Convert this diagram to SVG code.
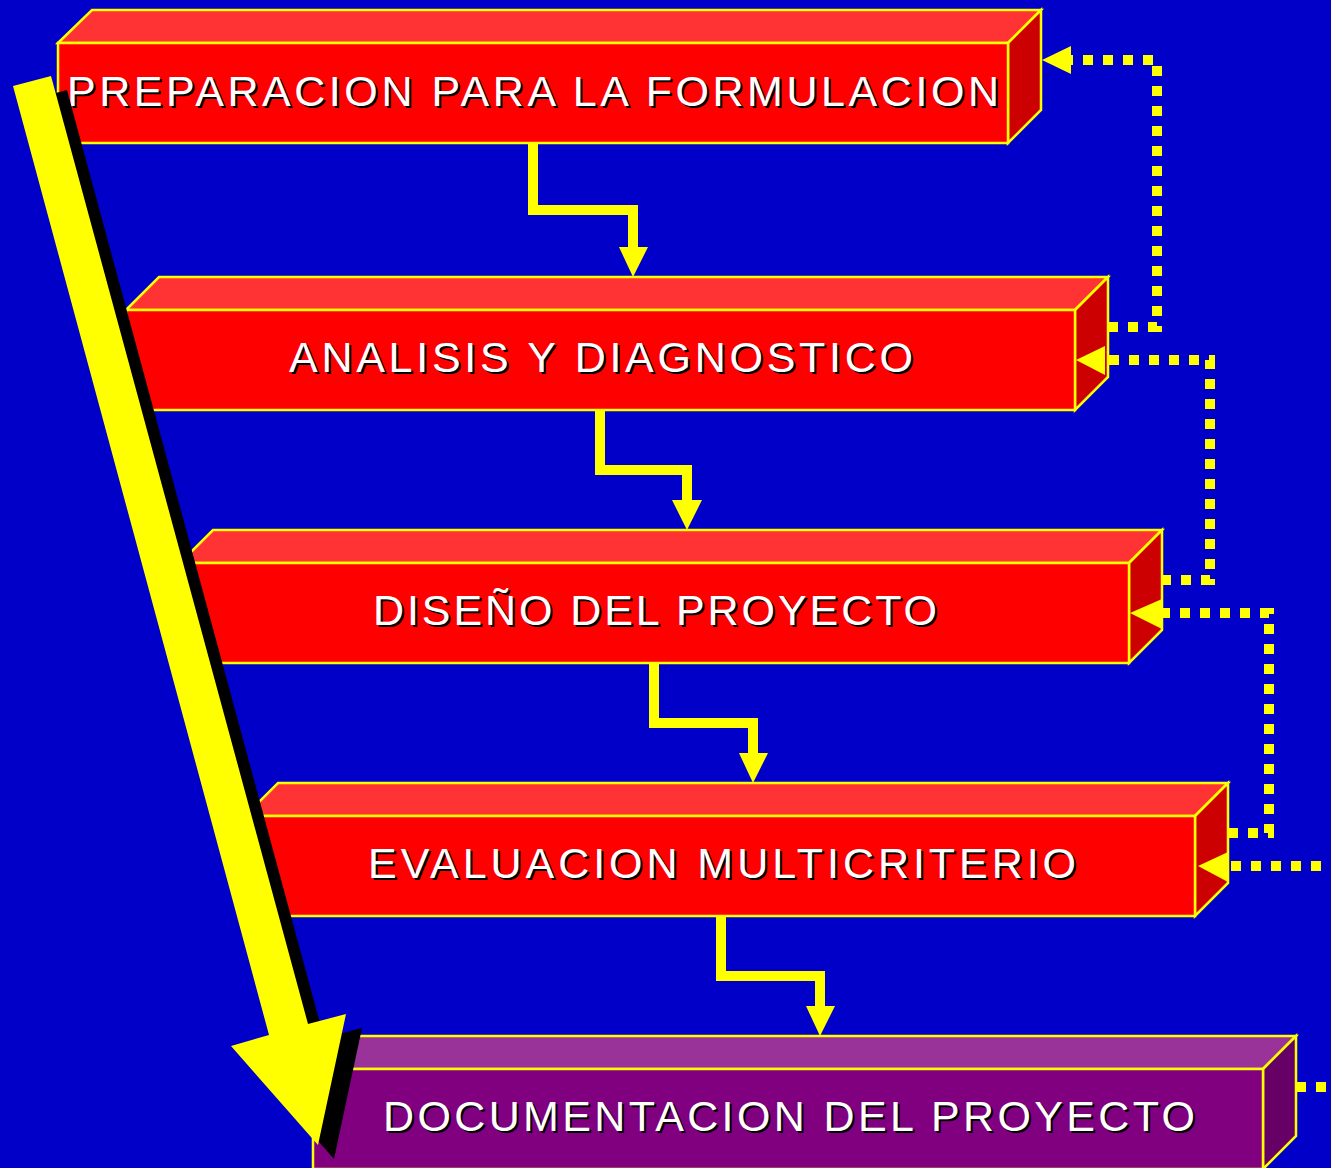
<svg xmlns="http://www.w3.org/2000/svg" width="1331" height="1168" viewBox="0 0 1331 1168">
<style>
.front{fill:#FF0000;stroke:#FFFF00;stroke-width:2.5}
.top{fill:#FF3333;stroke:#FFFF00;stroke-width:2.5}
.side{fill:#CC0000;stroke:#FFFF00;stroke-width:2.5}
.pfront{fill:#800080;stroke:#FFFF00;stroke-width:2.5}
.ptop{fill:#993399;stroke:#FFFF00;stroke-width:2.5}
.pside{fill:#660066;stroke:#FFFF00;stroke-width:2.5}
.lbl{font-family:"Liberation Sans",Arial,sans-serif;font-size:43px;text-anchor:middle}
.sh{fill:#000000}
.tx{fill:#FFFFFF}
.step{fill:none;stroke:#FFFF00;stroke-width:10;stroke-linejoin:miter}
.dot{fill:none;stroke:#FFFF00;stroke-width:10;stroke-dasharray:10 10}
.head{fill:#FFFF00}
</style>
<rect x="0" y="0" width="1331" height="1168" fill="#0000C8"/>

<g id="node1">
<polygon class="top" points="58,43 92,10 1041,10 1008,43"/>
<polygon class="side" points="1008,43 1041,10 1041,110 1008,143"/>
<rect class="front" x="58" y="43" width="950" height="100"/>
<text class="lbl sh" x="535" y="108" textLength="932" lengthAdjust="spacing">PREPARACION PARA LA FORMULACION</text>
<text class="lbl tx" x="533" y="106" textLength="932" lengthAdjust="spacing">PREPARACION PARA LA FORMULACION</text>
</g>

<g id="node2">
<polygon class="top" points="126,310 159,277 1108,277 1075,310"/>
<polygon class="side" points="1075,310 1108,277 1108,377 1075,410"/>
<rect class="front" x="126" y="310" width="949" height="100"/>
<text class="lbl sh" x="603" y="374" textLength="624" lengthAdjust="spacing">ANALISIS Y DIAGNOSTICO</text>
<text class="lbl tx" x="601" y="372" textLength="624" lengthAdjust="spacing">ANALISIS Y DIAGNOSTICO</text>
</g>

<g id="node3">
<polygon class="top" points="180,563 213,530 1162,530 1129,563"/>
<polygon class="side" points="1129,563 1162,530 1162,630 1129,663"/>
<rect class="front" x="180" y="563" width="949" height="100"/>
<text class="lbl sh" x="657" y="627" textLength="564" lengthAdjust="spacing">DISEÑO DEL PROYECTO</text>
<text class="lbl tx" x="655" y="625" textLength="564" lengthAdjust="spacing">DISEÑO DEL PROYECTO</text>
</g>

<g id="node4">
<polygon class="top" points="245,816 278,783 1228,783 1195,816"/>
<polygon class="side" points="1195,816 1228,783 1228,883 1195,916"/>
<rect class="front" x="245" y="816" width="950" height="100"/>
<text class="lbl sh" x="724" y="880" textLength="708" lengthAdjust="spacing">EVALUACION MULTICRITERIO</text>
<text class="lbl tx" x="722" y="878" textLength="708" lengthAdjust="spacing">EVALUACION MULTICRITERIO</text>
</g>

<g id="node5">
<polygon class="ptop" points="313,1069 346,1036 1296,1036 1263,1069"/>
<polygon class="pside" points="1263,1069 1296,1036 1296,1136 1263,1169"/>
<rect class="pfront" x="313" y="1069" width="950" height="100"/>
<text class="lbl sh" x="791" y="1133" textLength="812" lengthAdjust="spacing">DOCUMENTACION DEL PROYECTO</text>
<text class="lbl tx" x="789" y="1131" textLength="812" lengthAdjust="spacing">DOCUMENTACION DEL PROYECTO</text>
</g>

<g id="connectors">
<path class="step" d="M533,144 V210 H633 V248"/>
<polygon class="head" points="619,247 648,247 633,277"/>
<path class="step" d="M600,411 V470 H687 V501"/>
<polygon class="head" points="672,500 702,500 687,530"/>
<path class="step" d="M654,664 V723 H753 V754"/>
<polygon class="head" points="739,753 768,753 753,783"/>
<path class="step" d="M721,917 V976 H820 V1007"/>
<polygon class="head" points="806,1006 835,1006 820,1036"/>

<path class="dot" d="M1108,327 H1157 V60 H1071"/>
<polygon class="head" points="1042,60 1071,46 1071,74"/>
<path class="dot" d="M1161,580 H1210 V360 H1105"/>
<polygon class="head" points="1076,360 1105,346 1105,375"/>
<path class="dot" d="M1228,833 H1269 V613 H1162"/>
<polygon class="head" points="1130,613 1162,599 1162,629"/>
<path class="dot" d="M1341,866 H1228"/>
<polygon class="head" points="1198,866 1228,852 1228,882"/>
<path class="dot" d="M1296,1087 H1341"/>

<polygon fill="#000000" points="29,100 67,90 324,1038 362,1028 334,1159 247,1060 285,1049"/>
<polygon fill="#FFFF00" points="13,86 51,76 308,1024 346,1014 318,1145 231,1046 269,1035"/>
</g>
</svg>
